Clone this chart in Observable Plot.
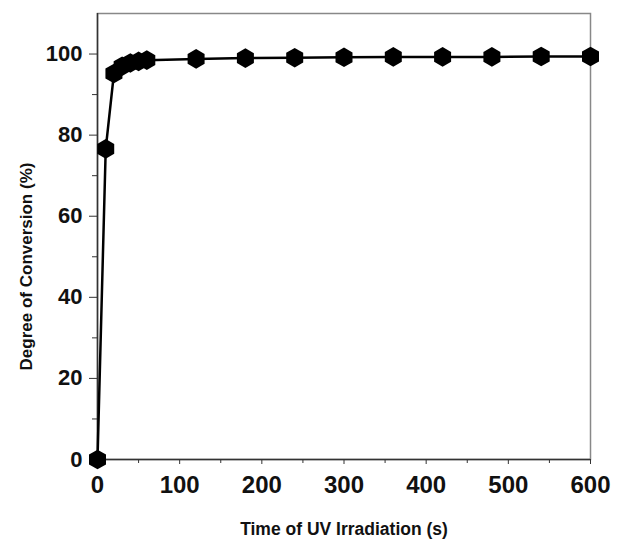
<!DOCTYPE html>
<html>
<head>
<meta charset="utf-8">
<script src="https://cdn.jsdelivr.net/npm/d3@7"></script>
<script src="https://cdn.jsdelivr.net/npm/@observablehq/plot@0.6"></script>
<style>
  html, body { margin: 0; padding: 0; background: #fff; }
</style>
</head>
<body>
<div id="chart"></div>
<script>
const times = [0, 10, 20, 30, 40, 50, 60, 120, 180, 240, 300, 360, 420, 480, 540, 600];
const conversion = [0, 76.6, 95.2, 97.0, 97.8, 98.2, 98.5, 98.8, 99.0, 99.1, 99.2, 99.3, 99.3, 99.3, 99.4, 99.4];
const xMajorTicks = [0, 100, 200, 300, 400, 500, 600];
const xMinorTicks = [50, 150, 250, 350, 450, 550];
const yMajorTicks = [0, 20, 40, 60, 80, 100];
const yMinorTicks = [10, 30, 50, 70, 90];
const xTitle = "Time of UV Irradiation (s)";
const yTitle = "Degree of Conversion (%)";

const data = times.map((t, i) => ({t, c: conversion[i]}));

const chart = Plot.plot({
  width: 624,
  height: 545,
  marginLeft: 97,
  marginRight: 34,
  marginTop: 13,
  marginBottom: 86,
  style: {fontFamily: "'Liberation Sans', Arial, sans-serif", background: "#fff"},
  x: {domain: [0, 600]},
  y: {domain: [0, 110]},
  marks: [
    Plot.frame({stroke: "#888", strokeWidth: 1.5}),
    Plot.axisX({ticks: xMinorTicks, tickFormat: () => "", tickSize: 4, stroke: "#333", label: null}),
    Plot.axisY({ticks: yMinorTicks, tickFormat: () => "", tickSize: 5, stroke: "#333", label: null}),
    Plot.axisX({ticks: xMajorTicks, tickSize: 5, tickPadding: 11, fontSize: 24, fontWeight: "bold", stroke: "#333", fill: "#111", label: null}),
    Plot.axisY({ticks: yMajorTicks, tickSize: 8, tickPadding: 7, fontSize: 22, fontWeight: "bold", stroke: "#333", fill: "#111", label: null}),
    Plot.ruleX([0], {stroke: "#333", strokeWidth: 1.5}),
    Plot.ruleY([0], {stroke: "#333", strokeWidth: 1.5}),
    Plot.line(data, {x: "t", y: "c", stroke: "#000", strokeWidth: 2.5}),
    Plot.dot(data, {x: "t", y: "c", symbol: "hexagon", fill: "#000", r: 8.5}),
    Plot.text([xTitle], {frameAnchor: "bottom", dy: 75, fontSize: 17.5, fontWeight: "bold", fill: "#111"}),
    Plot.text([yTitle], {frameAnchor: "left", textAnchor: "middle", dx: -71, dy: 30, rotate: -90, fontSize: 17, fontWeight: "bold", fill: "#111"})
  ]
});
document.getElementById("chart").appendChild(chart);
</script>
</body>
</html>
